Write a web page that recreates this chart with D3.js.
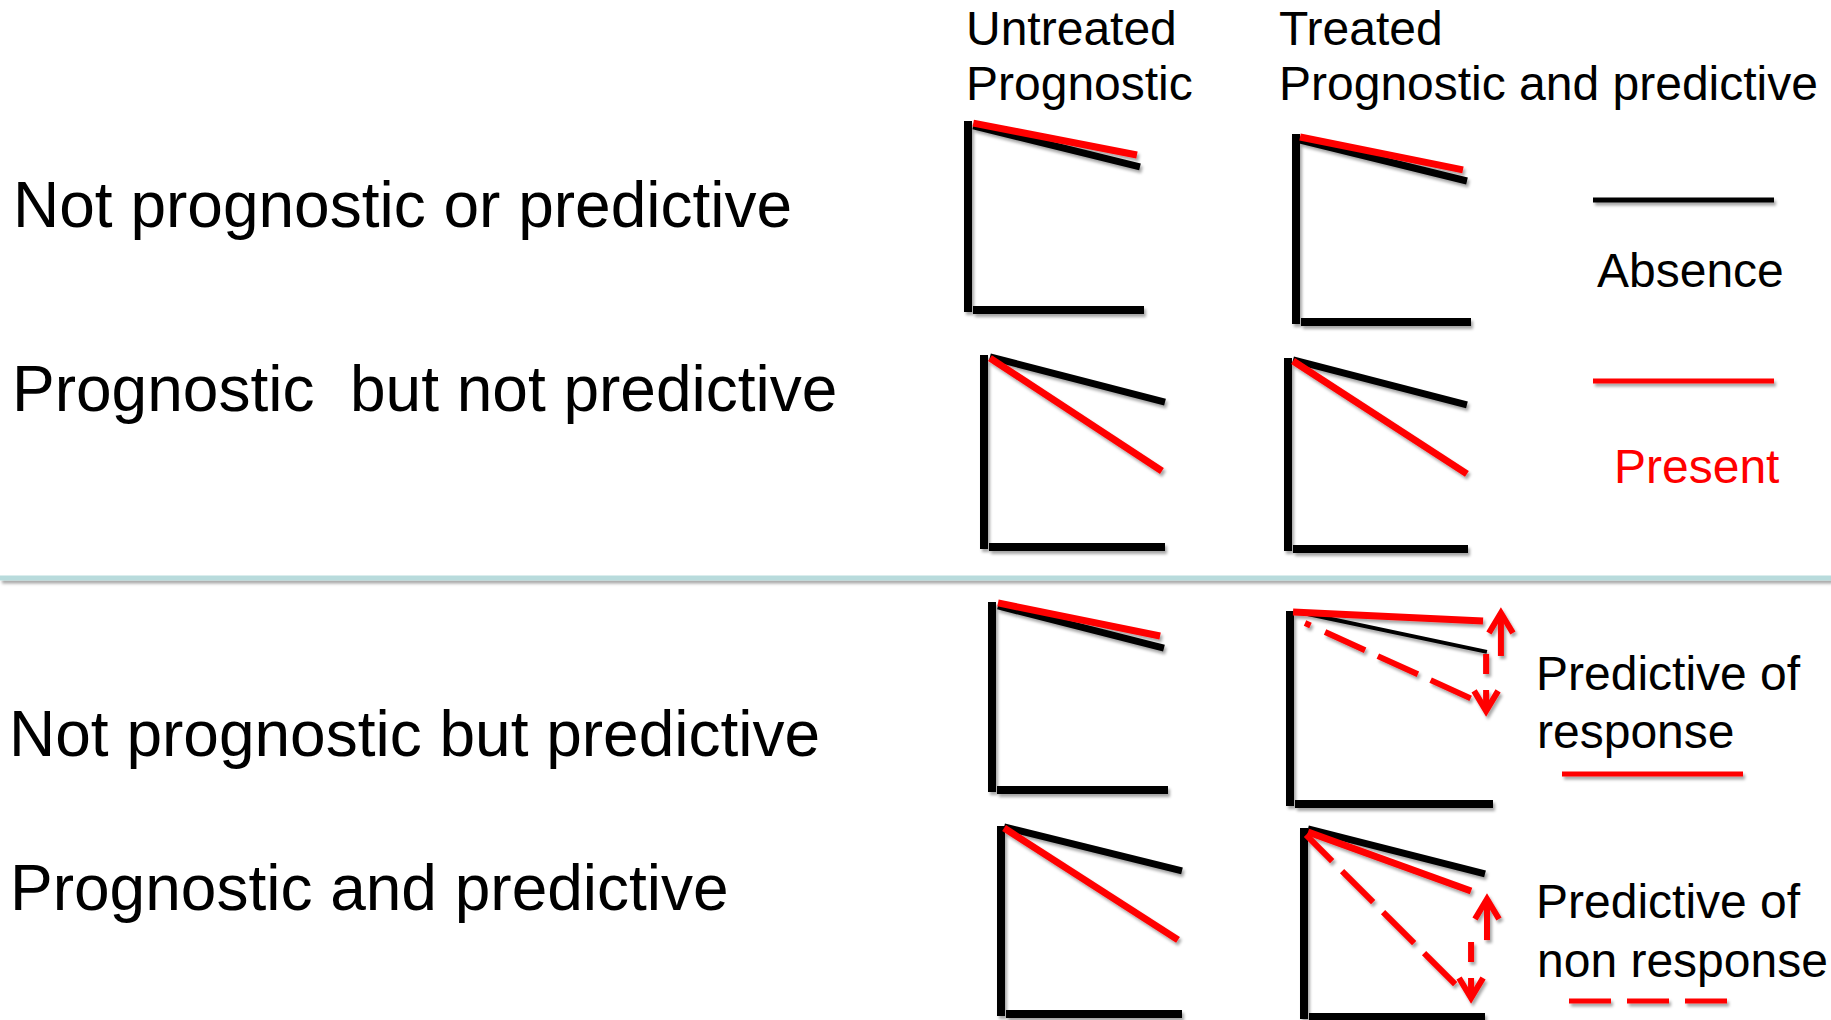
<!DOCTYPE html>
<html>
<head>
<meta charset="utf-8">
<script src="https://cdn.jsdelivr.net/npm/d3@7"></script>
<style>
  html, body { margin: 0; padding: 0; background: #ffffff; }
  svg { display: block; }
  text { font-family: "Liberation Sans", Arial, Helvetica, sans-serif; }
</style>
</head>
<body>
<svg id="chart" width="1831" height="1020"></svg>
<script>
// ---------------- DATA ----------------
const rowLabels = [
  "Not prognostic or predictive",
  "Prognostic  but not predictive",
  "Not prognostic but predictive",
  "Prognostic and predictive"
];
const columnTitles = ["Untreated", "Treated"];
const columnSubtitles = ["Prognostic", "Prognostic and predictive"];
const legendLabels = ["Absence", "Present"];
const predictiveLabels = [["Predictive of", "response"], ["Predictive of", "non response"]];

// Panels in order: row1 untreated, row1 treated, row2 untreated, row2 treated, ...
// Each series: [[time0, survival0], [time1, survival1]] in normalized units (0..1)
const absentSeries = [
  [[0.030, 0.974], [0.977, 0.757]],
  [[0.023, 0.968], [0.977, 0.750]],
  [[0.033, 0.990], [1.000, 0.755]],
  [[0.028, 0.990], [0.994, 0.754]],
  [[0.034, 0.979], [0.977, 0.755]],
  [[0.040, 0.995], [0.970, 0.788]],
  [[0.017, 0.995], [1.000, 0.761]],
  [[0.022, 0.995], [1.000, 0.757]]
];
const presentSeries = [
  [[0.030, 0.989], [0.960, 0.820]],
  [[0.023, 0.984], [0.954, 0.809]],
  [[0.033, 0.984], [0.983, 0.396]],
  [[0.028, 0.984], [0.994, 0.393]],
  [[0.034, 0.995], [0.955, 0.819]],
  [[0.015, 0.995], [0.951, 0.948]],
  [[0.017, 0.989], [0.978, 0.394]],
  [[0.022, 0.979], [0.923, 0.667]]
];
// dashed "predictive of non response" curves (only in treated predictive panels)
const nonResponsePanels = [5, 7];
const nonResponseSeries = [
  [[0.074, 0.938], [0.897, 0.544]],
  [[0.011, 0.963], [0.845, 0.164]]
];
// arrows: [time, survivalFrom, survivalTo]
const upArrowPanels = [5, 7];
const upArrows = [[1.039, 0.767, 1.000], [1.011, 0.407, 0.635]];
const downArrowPanels = [5, 7];
const downArrows = [[0.966, 0.777, 0.472], [0.923, 0.397, 0.090]];

// ---------------- LAYOUT ----------------
const panelFrames = [
  {ax: 968,  ty: 121, by: 310, rx: 1144},
  {ax: 1296, ty: 134, by: 322, rx: 1471},
  {ax: 984,  ty: 355, by: 547, rx: 1165},
  {ax: 1288, ty: 358, by: 549, rx: 1468},
  {ax: 992,  ty: 602, by: 790, rx: 1168},
  {ax: 1290, ty: 611, by: 804, rx: 1493},
  {ax: 1001, ty: 826, by: 1014, rx: 1182},
  {ax: 1304, ty: 828, by: 1017, rx: 1485}
];
const rowLabelPos = [[13, 227], [12, 411], [9, 756], [10, 910]];
const RED = "#ff0000";

const svg = d3.select("#chart");
const defs = svg.append("defs");
defs.append("filter")
  .attr("id", "sh").attr("filterUnits", "userSpaceOnUse")
  .attr("x", 0).attr("y", 0).attr("width", 1831).attr("height", 1020)
  .append("feDropShadow")
  .attr("dx", 2).attr("dy", 3).attr("stdDeviation", 1.6)
  .attr("flood-color", "#000").attr("flood-opacity", 0.35);

// separator
svg.append("line")
  .attr("x1", 0).attr("x2", 1831).attr("y1", 578).attr("y2", 578)
  .attr("stroke", "#b8dbdc").attr("stroke-width", 5)
  .attr("filter", "url(#sh)");

// column headers
const colX = [966, 1279];
columnTitles.forEach((t, i) => {
  svg.append("text").attr("x", colX[i]).attr("y", 45)
    .attr("font-size", 48).attr("fill", "#000").text(t);
  svg.append("text").attr("x", colX[i]).attr("y", 100)
    .attr("font-size", 48).attr("fill", "#000").text(columnSubtitles[i]);
});

// row labels
rowLabels.forEach((t, i) => {
  svg.append("text").attr("x", rowLabelPos[i][0]).attr("y", rowLabelPos[i][1])
    .attr("font-size", 64).attr("fill", "#000")
    .style("white-space", "pre").attr("xml:space", "preserve")
    .text(t);
});

// panels
panelFrames.forEach((f, i) => {
  const x = d3.scaleLinear().domain([0, 1]).range([f.ax, f.rx]);
  const y = d3.scaleLinear().domain([0, 1]).range([f.by, f.ty]);
  const line = d3.line().x(d => x(d[0])).y(d => y(d[1]));
  const g = svg.append("g").attr("filter", "url(#sh)");

  // axes
  g.append("line")
    .attr("x1", x(0)).attr("x2", x(0)).attr("y1", y(1)).attr("y2", y(0) + 2)
    .attr("stroke", "#000").attr("stroke-width", 8);
  g.append("line")
    .attr("x1", x(0) + 5).attr("x2", x(1)).attr("y1", y(0)).attr("y2", y(0))
    .attr("stroke", "#000").attr("stroke-width", 8);

  const thin = (i === 5);
  g.append("path").attr("d", line(absentSeries[i]))
    .attr("fill", "none").attr("stroke", "#000").attr("stroke-width", thin ? 4 : 7);
  g.append("path").attr("d", line(presentSeries[i]))
    .attr("fill", "none").attr("stroke", RED).attr("stroke-width", 7);

  const nr = nonResponsePanels.indexOf(i);
  if (nr >= 0) {
    g.append("path").attr("d", line(nonResponseSeries[nr]))
      .attr("fill", "none").attr("stroke", RED).attr("stroke-width", 6)
      .attr("stroke-dasharray", nr === 0 ? "6 16 44 14 44 14 44 14" : "37 14 44 14 44 14 44 14");
  }
  const ua = upArrowPanels.indexOf(i);
  if (ua >= 0) {
    const a = upArrows[ua];
    const ax = x(a[0]), y0 = y(a[1]), y1 = y(a[2]);
    g.append("line").attr("x1", ax).attr("x2", ax).attr("y1", y0).attr("y2", y1 + 2)
      .attr("stroke", RED).attr("stroke-width", 6);
    g.append("path").attr("d", `M${ax - 12},${y1 + 22}L${ax},${y1 + 2}L${ax + 12},${y1 + 22}`)
      .attr("fill", "none").attr("stroke", RED).attr("stroke-width", 6);
  }
  const da = downArrowPanels.indexOf(i);
  if (da >= 0) {
    const a = downArrows[da];
    const ax = x(a[0]), y0 = y(a[1]), y1 = y(a[2]);
    g.append("line").attr("x1", ax).attr("x2", ax).attr("y1", y0).attr("y2", y1 - 2)
      .attr("stroke", RED).attr("stroke-width", 6).attr("stroke-dasharray", "20 16 200");
    g.append("path").attr("d", `M${ax - 12},${y1 - 22}L${ax},${y1 - 2}L${ax + 12},${y1 - 22}`)
      .attr("fill", "none").attr("stroke", RED).attr("stroke-width", 6);
  }
});

// legend: absence / present
const legLineY = [200, 381];
const legColors = ["#000", RED];
const legTextPos = [[1597, 287], [1614, 483]];
legendLabels.forEach((t, i) => {
  svg.append("line").attr("x1", 1593).attr("x2", 1774)
    .attr("y1", legLineY[i]).attr("y2", legLineY[i])
    .attr("stroke", legColors[i]).attr("stroke-width", 5).attr("filter", "url(#sh)");
  svg.append("text").attr("x", legTextPos[i][0]).attr("y", legTextPos[i][1])
    .attr("font-size", 48).attr("fill", legColors[i]).text(t);
});

// legend: predictive of response / non response
const predBase = [[690, 748], [918, 977]];
predictiveLabels.forEach((lines, i) => {
  svg.append("text").attr("x", 1536).attr("y", predBase[i][0])
    .attr("font-size", 48).attr("fill", "#000").text(lines[0]);
  svg.append("text").attr("x", 1537).attr("y", predBase[i][1])
    .attr("font-size", 48).attr("fill", "#000").text(lines[1]);
});
svg.append("line").attr("x1", 1562).attr("x2", 1743).attr("y1", 774).attr("y2", 774)
  .attr("stroke", RED).attr("stroke-width", 5).attr("filter", "url(#sh)");
svg.append("line").attr("x1", 1569).attr("x2", 1728).attr("y1", 1001).attr("y2", 1001)
  .attr("stroke", RED).attr("stroke-width", 5).attr("stroke-dasharray", "42 16")
  .attr("filter", "url(#sh)");
</script>
</body>
</html>
